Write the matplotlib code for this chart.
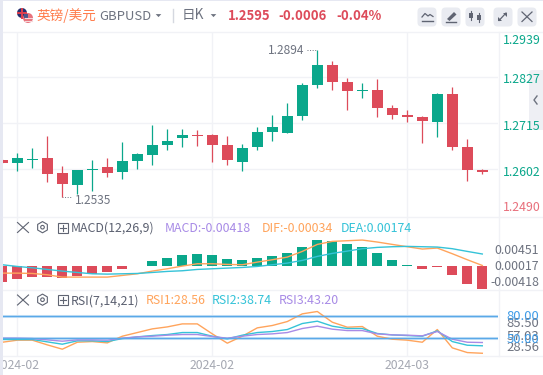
import matplotlib
matplotlib.use("Agg")
import matplotlib.pyplot as plt
import numpy as np
from matplotlib.patches import Circle, FancyBboxPatch, Rectangle, RegularPolygon, Polygon

plt.rcParams['font.family'] = ['Noto Sans CJK SC', 'DejaVu Sans']

W, H = 543, 375

# ---- data ----
opens = [1.2625, 1.2617, 1.2625, 1.2629, 1.2593, 1.2563, 1.2600, 1.2607, 1.2595, 1.2622, 1.2636, 1.2661, 1.2678,
         1.2685, 1.2685, 1.2661, 1.2619, 1.2656, 1.2693, 1.2690, 1.2732, 1.2807, 1.2858, 1.2815, 1.2793, 1.2797,
         1.2753, 1.2734, 1.2729, 1.2717, 1.2785, 1.2656, 1.2600]
closes = [1.2617, 1.2629, 1.2627, 1.2590, 1.2566, 1.2600, 1.2602, 1.2593, 1.2622, 1.2639, 1.2661, 1.2671, 1.2685,
          1.2684, 1.2661, 1.2624, 1.2653, 1.2693, 1.2705, 1.2732, 1.2807, 1.2858, 1.2815, 1.2793, 1.2797, 1.2753,
          1.2734, 1.2729, 1.2719, 1.2785, 1.2656, 1.2600, 1.2595]
highs = [1.2627, 1.2641, 1.2653, 1.2683, 1.2610, 1.2600, 1.2624, 1.2629, 1.2668, 1.2641, 1.2710, 1.2700, 1.2700,
         1.2697, 1.2688, 1.2683, 1.2663, 1.2705, 1.2734, 1.2763, 1.2812, 1.2894, 1.2866, 1.2824, 1.2812, 1.2822,
         1.2758, 1.2746, 1.2732, 1.2788, 1.2802, 1.2675, 1.2602]
lows = [1.2617, 1.2597, 1.2605, 1.2570, 1.2535, 1.2541, 1.2548, 1.2583, 1.2578, 1.2602, 1.2612, 1.2649, 1.2656,
        1.2658, 1.2619, 1.2612, 1.2597, 1.2649, 1.2671, 1.2690, 1.2722, 1.2800, 1.2795, 1.2746, 1.2776, 1.2729,
        1.2724, 1.2717, 1.2666, 1.2682, 1.2649, 1.2573, 1.2590]
hist = [-2.90, -2.36, -2.00, -2.00, -2.10, -1.82, -1.40, -1.09, -0.60, 0.06, 0.91, 1.45, 2.00, 2.18, 2.00, 1.27, 1.09,
        1.45, 1.82, 2.36, 3.45, 4.73, 4.48, 4.00, 3.45, 2.36, 1.09, 0.18, -0.55, -0.18, -1.64, -3.27, -4.18]
dif = [-1.73, -1.73, -1.79, -2.03, -2.45, -2.45, -2.45, -2.45, -2.15, -1.85, -1.36, -0.94, -0.45, -0.03, -0.03, -0.15,
       -0.21, 0.27, 0.70, 1.18, 2.21, 3.48, 4.03, 4.15, 4.27, 3.91, 3.48, 3.06, 2.64, 2.82, 1.79, 0.70, -0.34]
dea = [-0.21, -0.52, -0.76, -1.06, -1.36, -1.61, -1.85, -1.91, -1.85, -1.79, -1.61, -1.42, -1.30, -1.06, -0.94, -0.82,
       -0.70, -0.52, -0.21, 0.09, 0.58, 1.30, 1.85, 2.27, 2.70, 2.94, 3.06, 3.12, 3.06, 3.00, 2.70, 2.21, 1.74]
rsi1 = [43.6, 46.4, 46.4, 40.0, 34.1, 43.6, 44.5, 42.7, 51.8, 56.8, 61.8, 64.5, 68.6, 68.6, 55.0, 42.3, 51.8, 63.2,
        66.4, 71.8, 82.3, 85.5, 70.9, 64.1, 65.0, 51.8, 47.7, 46.4, 43.6, 60.9, 35.9, 29.5, 28.56]
rsi2 = [47.3, 47.3, 47.3, 44.1, 40.9, 45.5, 45.5, 44.5, 48.6, 50.9, 52.7, 54.1, 56.8, 56.8, 51.8, 48.2, 53.2, 56.8,
        58.2, 60.9, 69.1, 72.3, 65.5, 62.3, 62.3, 55.5, 53.6, 52.7, 51.8, 59.1, 44.5, 39.5, 38.74]
rsi3 = [49.1, 49.1, 48.6, 46.8, 45.0, 46.8, 46.8, 46.4, 49.1, 50.9, 51.8, 53.2, 54.1, 54.1, 51.4, 49.1, 51.8, 54.1,
        55.0, 56.8, 62.3, 65.5, 61.4, 59.5, 59.5, 55.0, 53.6, 53.2, 52.3, 58.2, 47.7, 43.6, 43.20]
rsi_levels = [80, 50]
price_ticks = [1.2939, 1.2827, 1.2715, 1.2602, 1.2490]
date_ticks = [1, 14, 27]
date_labels = ['2024-02', '2024-02', '2024-03']

# ---- colours ----
UP, DOWN = '#0aa78b', '#dd4b5a'
ORANGE, CYAN, PURPLE = '#ffa45c', '#35c3d8', '#a88be6'
BLUE = '#5aa9e8'
GRID = '#f1f2f6'
GRAY = '#6e7380'
TICK = '#a5a8b2'

fig = plt.figure(figsize=(W / 100, H / 100), dpi=100, facecolor='white')


def panel(y0, y1, x0=3, x1=498.5, **kw):
    return fig.add_axes([x0 / W, 1 - y1 / H, (x1 - x0) / W, (y1 - y0) / H], **kw)


x = np.arange(len(opens))
xlim = ((3 - 2.3) / 15, (498.5 - 2.3) / 15)

# ---- main ----
ax = panel(31.5, 216.3)
ax.set_xlim(*xlim)
ax.set_ylim(1.2939 - (216.3 - 31) / 184 * 0.0449, 1.2939)
up = np.array(closes) >= np.array(opens)
cols = [UP if u else DOWN for u in up]
ax.vlines(x, lows, highs, colors=cols, lw=0.9, zorder=3)
bot = np.minimum(opens, closes)
hgt = np.maximum(np.abs(np.array(closes) - np.array(opens)), 0.00012)
ax.bar(x, hgt, bottom=bot, width=11 / 15, color=cols, zorder=3, lw=0)
ax.annotate('1.2535', xy=(4, lows[4]), xytext=(13, -3.5), textcoords='offset pixels', fontsize=8.6, color=GRAY,
            va='center', ha='left', zorder=5)
ax.plot([4, 4.65], [lows[4], lows[4]], ls=':', color=GRAY, lw=0.7)
ax.annotate('1.2894', xy=(21, highs[21]), xytext=(-13, -1), textcoords='offset pixels', fontsize=8.6, color=GRAY,
            va='center', ha='right', zorder=5)
ax.plot([20.3, 21], [highs[21], highs[21]], ls=':', color=GRAY, lw=0.7)
ax.set_yticks(price_ticks[1:4])
ax.set_xticks(date_ticks)
ax.grid(True, color=GRID, lw=1)
ax.set_axisbelow(True)
ax.tick_params(length=0, labelleft=False, labelbottom=False)

# ---- MACD ----
am = panel(216.3, 289.5)
am.set_xlim(*xlim)
am.set_ylim(-4.24, 9.03)
am.bar(x, hist, width=10 / 15, color=[UP if v >= 0 else DOWN for v in hist], lw=0, zorder=2)
am.set_xticks(date_ticks)
am.grid(True, axis='x', color=GRID, lw=1)
am.set_axisbelow(True)
am.tick_params(length=0, labelleft=False, labelbottom=False)
am.set_yticks([])
al = am.twinx()
al.set_ylim(-4.7, 8.58)
al.plot(x, dif, color=ORANGE, lw=1.0, zorder=4)
al.plot(x, dea, color=CYAN, lw=1.0, zorder=4)
al.set_yticks([])

# ---- RSI ----
ar = panel(289.5, 355.5)
ar.set_xlim(*xlim)
ar.set_ylim(25.5, 115.5)
for lv in rsi_levels:
    ar.axhline(lv, color='#cfe5f8', lw=2.2, zorder=1)
    ar.plot([xlim[0], xlim[1]], [lv, lv], color=BLUE, lw=1.0, zorder=5)
ar.plot(x, rsi1, color=ORANGE, lw=1.0, zorder=3)
ar.plot(x, rsi2, color=CYAN, lw=1.0, zorder=3)
ar.plot(x, rsi3, color=PURPLE, lw=1.0, zorder=3)
ar.set_yticks([])
ar.set_xticks(date_ticks)
ar.set_xticklabels(date_labels, fontsize=8.8, color=TICK)
ar.tick_params(length=0, pad=2.2)
ar.grid(True, axis='x', color=GRID, lw=1)
ar.set_axisbelow(True)

for a in (ax, am, al, ar):
    for s in a.spines.values():
        s.set_visible(False)

# ---- page chrome, in pixel coordinates ----
ov = fig.add_axes([0, 0, 1, 1], zorder=20)
ov.set_xlim(0, W)
ov.set_ylim(H, 0)
ov.axis('off')
ov.patch.set_alpha(0)

ov.add_patch(Rectangle((0, 0), 3, H, color='#e6e8f2', lw=0))
ov.add_patch(Rectangle((0, 0), W, 1, color='#e6e8f2', lw=0))
for yy in (31.5, 216.5, 289.5, 355.5):
    ov.plot([3, W], [yy, yy], color=GRID, lw=1)
ov.plot([498.5, 498.5], [31.5, 355.5], color=GRID, lw=1)

# flags
ov.add_patch(Circle((22, 13), 5, color='#27306e', lw=0))
ov.plot([18, 26], [13, 13], color='#e0404f', lw=1.4)
ov.plot([22, 22], [8.5, 17.5], color='#e0404f', lw=1.4)
ov.add_patch(Circle((28, 18), 5, color='#e8717b', lw=0))
ov.plot([24.5, 31.5], [18, 18], color='#f6d8da', lw=0.8)
ov.plot([24.5, 31.5], [20.5, 20.5], color='#f6d8da', lw=0.8)
ov.add_patch(Rectangle((23.5, 13.5), 4.5, 4.2, color='#4c568c', lw=0))


def t(px, py, s, color=GRAY, size=8.7, ha='left', **kw):
    ov.text(px, py + 1, s, color=color, fontsize=size, ha=ha, va='center', **kw)


def tri(cx, cy, s=2.8, c=GRAY):
    ov.add_patch(Polygon([(cx - s, cy - 1.4), (cx + s, cy - 1.4), (cx, cy + 1.6)], color=c, lw=0))


t(36.5, 14.5, '英镑/美元', color='#ff7d4d', size=9.8)
t(99, 15.5, 'GBPUSD', size=9.4)
tri(158.5, 15.5)
ov.plot([172.5, 172.5], [9, 22], color='#d5d8e0', lw=1)
t(182, 14.5, '日K', size=9.8)
tri(213.5, 15.5)
t(227.5, 14.5, '1.2595', color=DOWN, size=9.4, fontweight='bold')
t(278.5, 14.5, '-0.0006', color=DOWN, size=9.5, fontweight='bold')
t(336, 14.5, '-0.04%', color=DOWN, size=9.5, fontweight='bold')

# toolbar buttons
for bx in (417, 441, 465, 493, 517):
    ov.add_patch(FancyBboxPatch((bx + 1.5, 8.5), 17, 17, boxstyle='round,pad=1,rounding_size=4', fc='#e9ebf1', ec='none'))
ic = '#5f6472'
ov.plot([422, 425, 428, 430, 433], [17, 13.5, 16, 14.5, 16.5], color=ic, lw=0.9)
ov.plot([422, 433], [21, 21], color=ic, lw=1)
ov.add_patch(Polygon([(447, 19), (454, 12), (456.5, 14.5), (449.5, 21)], color=ic, lw=0))
ov.plot([446, 456], [21.5, 21.5], color=ic, lw=1)
ov.plot([471, 471], [11, 20], color=ic, lw=0.8)
ov.plot([478.5, 478.5], [13, 22], color=ic, lw=0.8)
ov.add_patch(Rectangle((469, 13), 4, 5, color=ic, lw=0))
ov.add_patch(Rectangle((476.5, 15), 4.5, 5, color=ic, lw=0))
ov.plot([499, 506], [20.5, 13], color=ic, lw=0.9)
ov.add_patch(Polygon([(503, 13), (507, 13), (507, 17)], color=ic, lw=0))
ov.add_patch(Polygon([(498, 17), (498, 21), (502, 21)], color=ic, lw=0))
ov.plot([522, 532], [12, 21.5], color=ic, lw=0.9)
ov.plot([532, 522], [12, 21.5], color=ic, lw=0.9)

# price labels
py = [39.5, 78.5, 125, 171, 206.5]
for p, yy in zip(price_ticks, py):
    t(502.5, yy, f'{p:.4f}', color=UP if p > 1.25 else '#e8707c', size=8.9)

# collapse tab
ov.add_patch(FancyBboxPatch((529, 70), 20, 60, boxstyle='round,pad=0,rounding_size=3', fc='#eeeff4', ec='none',
                            clip_on=True))
ov.plot([537, 534, 537], [96, 100, 104], color=GRAY, lw=1)


def controls(cy):
    ov.plot([17.5, 28.5], [cy - 5, cy + 5], color=ic, lw=0.8)
    ov.plot([28.5, 17.5], [cy - 5, cy + 5], color=ic, lw=0.8)
    ov.add_patch(RegularPolygon((42.5, cy - 0.3), 6, radius=5.6, fc='white', ec=ic, lw=0.8))
    ov.add_patch(Circle((42.5, cy - 0.3), 1.8, fc='white', ec=ic, lw=0.8))
    ov.add_patch(Rectangle((57.5, cy - 4.8), 10, 10, fc='white', ec=ic, lw=0.8))
    ov.plot([59.5, 65.5], [cy + 0.2, cy + 0.2], color=ic, lw=0.8)
    ov.plot([62.5, 62.5], [cy - 2.8, cy + 3.2], color=ic, lw=0.8)


controls(227.5)
controls(300)
t(71, 227.5, 'MACD(12,26,9)', color='#5b6070', size=8.9)
t(165, 227.5, 'MACD:-0.00418', color=PURPLE, size=8.9)
t(262, 227.5, 'DIF:-0.00034', color=ORANGE, size=8.9)
t(341, 227.5, 'DEA:0.00174', color=CYAN, size=8.9)
t(71, 300, 'RSI(7,14,21)', color='#5b6070', size=8.9)
t(145.5, 300, 'RSI1:28.56', color=ORANGE, size=8.9)
t(212, 300, 'RSI2:38.74', color=CYAN, size=8.9)
t(278.5, 300, 'RSI3:43.20', color=PURPLE, size=8.9)

# right-hand indicator values
for yy, s in ((249.5, '0.00451'), (265.5, '0.00017'), (281, '-0.00418')):
    t(539, yy, s, ha='right', size=8.9)
for yy, s, c in ((322.5, '85.50', GRAY), (335, '57.03', GRAY), (346.5, '28.56', GRAY), (315, '80.00', '#3f9ce8'),
                 (338.5, '50.00', '#3f9ce8')):
    t(539, yy, s, color=c, ha='right', size=9.4)

fig.savefig('out.png', dpi=100, facecolor='white')
